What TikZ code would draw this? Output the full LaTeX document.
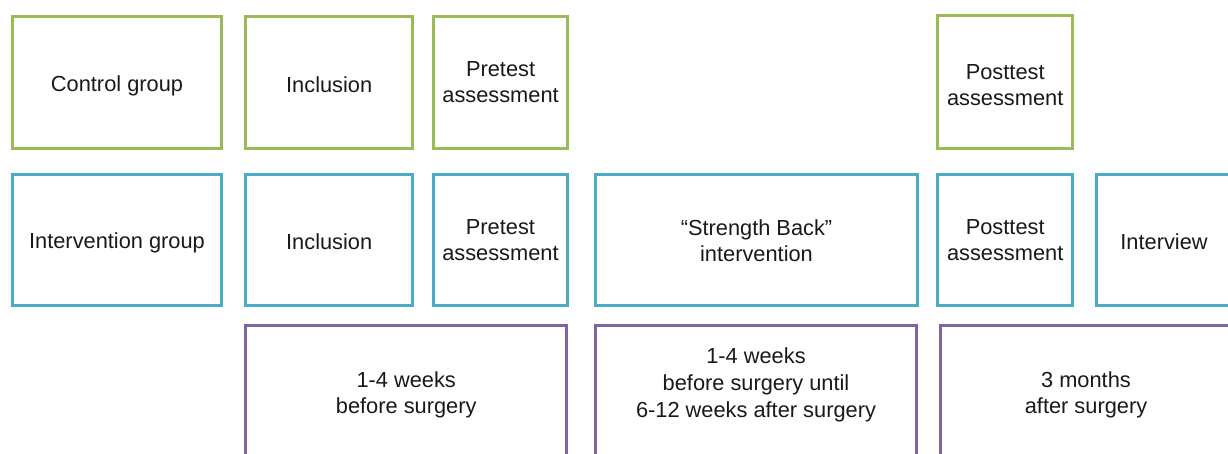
\documentclass[tikz,border=0pt]{standalone}
\usepackage{fontspec}
\setmainfont{Liberation Sans}
\definecolor{ctrlgreen}{HTML}{9BBB59}
\definecolor{intblue}{HTML}{4BACC6}
\definecolor{timepurple}{HTML}{8064A2}
% invisible rule that lowers a line's text inside its box
\newcommand{\lowerby}[1]{\rule{0pt}{#1pt}}
\begin{document}
\begin{tikzpicture}[x=1pt,y=-1pt,
  box/.style={draw,rectangle,line width=3pt,inner sep=0pt,outer sep=0pt,
    anchor=north west,align=center,text=black!90,
    font=\fontsize{21.8}{26}\selectfont},
  gbox/.style={box,draw=ctrlgreen},
  bbox/.style={box,draw=intblue,minimum height=131.4pt},
  pbox/.style={box,draw=timepurple,minimum height=135pt},
  lbl/.style={align=center,inner sep=0pt,text=black!90,
    font=\fontsize{21.8}{27}\selectfont}]
\useasboundingbox (0,0) rectangle (1228,453);
\clip (0,0) rectangle (1228,453);

% control group row
\node[gbox,minimum width=209.4pt,minimum height=131.8pt] (cg) at (12.3,16.7) {\lowerby{22}Control group};
\node[gbox,minimum width=167pt,minimum height=131.8pt] (cinc) at (245.7,16.7) {\lowerby{20}Inclusion};
\node[gbox,minimum width=134.5pt,minimum height=131.8pt] (cpre) at (433.3,16.7) {Pretest\\assessment};
\node[gbox,minimum width=135pt,minimum height=133.5pt] (cpost) at (937.7,15) {\lowerby{22}Posttest\\assessment};

% intervention group row
\node[bbox,minimum width=209.4pt] (ig) at (12.3,174.3) {\lowerby{22}Intervention group};
\node[bbox,minimum width=167pt] (iinc) at (245.7,174.3) {\lowerby{20}Inclusion};
\node[bbox,minimum width=134.3pt] (ipre) at (433.3,174.3) {Pretest\\assessment};
\node[bbox,minimum width=321.6pt] (iint) at (595.7,174.3) {\lowerby{18}“Strength Back”\\intervention};
\node[bbox,minimum width=135pt] (ipost) at (937.7,174.3) {Posttest\\assessment};
\node[bbox,minimum width=134.6pt] (iview) at (1096.7,174.3) {\lowerby{20}Interview};

% timing row
\node[pbox,minimum width=321pt] (t1) at (245.7,325.7) {\lowerby{20}1-4 weeks\\before surgery};
\node[pbox,minimum width=321pt] (t2) at (595.7,325.7) {};
\node[lbl] (t2txt) at (756,385) {1-4 weeks\\before surgery until\\6-12 weeks after surgery};
\node[pbox,minimum width=290.6pt] (t3) at (940.7,325.7) {\lowerby{20}3 months\\after surgery};
\end{tikzpicture}
\end{document}
